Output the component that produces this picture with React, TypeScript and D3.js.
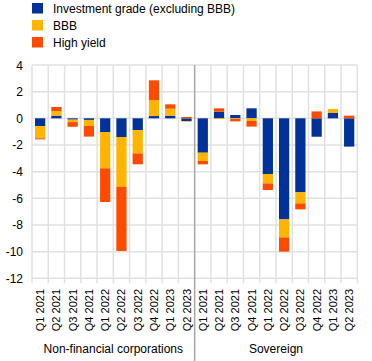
import React from "react";
import * as d3 from "d3";

const quarters = ["Q1 2021","Q2 2021","Q3 2021","Q4 2021","Q1 2022","Q2 2022","Q3 2022","Q4 2022","Q1 2023","Q2 2023"];
const groups = ["Non-financial corporations", "Sovereign"];
const seriesNames = ["Investment grade (excluding BBB)", "BBB", "High yield"];
const colors = ["#003299", "#FFB400", "#FF4B00"];

const nfcIG  = [-0.58, 0.2, -0.1, -0.12, -1.03, -1.4, -0.88, 0.17, 0.2, -0.2];
const nfcBBB = [-0.92, 0.35, -0.18, -0.45, -2.72, -3.73, -1.75, 1.2, 0.52, -0.05];
const nfcHY  = [-0.08, 0.3, -0.35, -0.8, -2.53, -4.82, -0.82, 1.48, 0.33, 0.1];

const sovIG  = [-2.58, 0.5, 0.25, 0.75, -4.18, -7.58, -5.55, -1.38, 0.4, -2.12];
const sovBBB = [-0.62, -0.05, -0.05, -0.2, -0.7, -1.35, -0.83, 0, 0.3, 0];
const sovHY  = [-0.25, 0.25, -0.18, -0.42, -0.5, -1.07, -0.45, 0.52, 0, 0.2];

const yTicks = [4, 2, 0, -2, -4, -6, -8, -10, -12];

export default function App() {
  const W = 372, H = 361;
  const left = 32, right = 357.3, top = 65, bottom = 278.3;

  const cats = [
    ...quarters.map((q) => ({ key: "nfc-" + q, q, g: 0 })),
    ...quarters.map((q) => ({ key: "sov-" + q, q, g: 1 })),
  ];
  const vals = [
    ...quarters.map((_, i) => [nfcIG[i], nfcBBB[i], nfcHY[i]]),
    ...quarters.map((_, i) => [sovIG[i], sovBBB[i], sovHY[i]]),
  ];

  const x = d3.scaleBand<string>().domain(cats.map((c) => c.key)).range([left, right]).paddingInner(0.37).paddingOuter(0.185);
  const xb = d3.scaleBand<string>().domain(cats.map((c) => c.key)).range([left, right]);
  const y = d3.scaleLinear().domain([-12, 4]).range([bottom, top]);

  const rects: React.ReactNode[] = [];
  cats.forEach((c, i) => {
    let pos = 0, neg = 0;
    vals[i].forEach((v, s) => {
      let y0, y1;
      if (v >= 0) { y0 = pos; y1 = pos + v; pos = y1; }
      else { y0 = neg; y1 = neg + v; neg = y1; }
      if (v === 0) return;
      const a = y(Math.max(y0, y1)), b = y(Math.min(y0, y1));
      rects.push(
        <rect key={c.key + s} x={x(c.key)} width={x.bandwidth()} y={a} height={b - a} fill={colors[s]} />
      );
    });
  });

  const sepX = xb(cats[10].key)!;
  const font = "Arial, 'Liberation Sans', sans-serif";

  return (
    <svg width={W} height={H} style={{ position: "absolute", left: 0, top: 0 }} fontFamily={font}>
      <rect width={W} height={H} fill="#fff" />
      {/* legend */}
      {seriesNames.map((n, i) => (
        <g key={n} transform={`translate(32, ${3 + i * 17})`}>
          <rect width={11} height={10.5} fill={colors[i]} />
          <text x={21} y={9.5} fontSize={12} fill="#000">{n}</text>
        </g>
      ))}
      {/* horizontal grid */}
      {yTicks.map((t) => (
        <line key={"h" + t} x1={left} x2={right} y1={y(t)} y2={y(t)} stroke="#e1e1e1" strokeWidth={1.5} />
      ))}
      {/* vertical grid */}
      {cats.map((c, i) => i === 10 ? null : (
        <line key={"v" + c.key} x1={xb(c.key)} x2={xb(c.key)} y1={top} y2={bottom + 5} stroke="#e1e1e1" strokeWidth={1.5} />
      ))}
      <line x1={right} x2={right} y1={top} y2={bottom + 5} stroke="#e1e1e1" strokeWidth={1.5} />
      {/* y labels */}
      {yTicks.map((t) => (
        <text key={"yl" + t} x={23} y={y(t) + 4.5} textAnchor="end" fontSize={12} fill="#000">
          {t < 0 ? "-" + Math.abs(t) : String(t)}
        </text>
      ))}
      {rects}
      {/* separator */}
      <line x1={sepX} x2={sepX} y1={top} y2={H} stroke="#a6a6a6" strokeWidth={1.5} />
      {/* x labels */}
      {cats.map((c) => {
        const cx = xb(c.key)! + xb.bandwidth() / 2;
        return (
          <text key={"xl" + c.key} transform={`translate(${cx + 4}, 289) rotate(-90)`} textAnchor="end" fontSize={11} fill="#000">
            {c.q}
          </text>
        );
      })}
      {groups.map((g, i) => {
        const a = i === 0 ? left : sepX;
        const b = i === 0 ? sepX : right;
        return (
          <text key={g} x={(a + b) / 2} y={353} textAnchor="middle" fontSize={12} fill="#000">{g}</text>
        );
      })}
    </svg>
  );
}
